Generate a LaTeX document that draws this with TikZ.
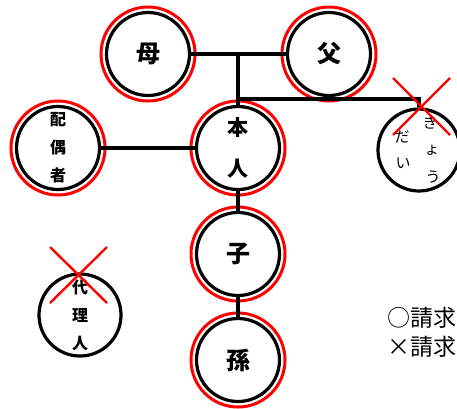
\documentclass[tikz,border=0pt]{standalone}
\usepackage{fontspec}
\newfontfamily\cjk{Noto Sans CJK JP}
\begin{document}
\begin{tikzpicture}[x=1pt,y=-1pt,
  person/.style={circle,draw=black,line width=3.2pt,minimum size=83pt,inner sep=0pt,align=center},
  big/.style={font=\cjk\bfseries\fontsize{24}{24}\selectfont},
  mid/.style={font=\cjk\bfseries\fontsize{21}{41}\selectfont},
  small/.style={font=\cjk\bfseries\fontsize{16}{28}\selectfont},
  kana/.style={font=\cjk\fontsize{15}{15}\selectfont,inner sep=0pt},
  legend/.style={font=\cjk\fontsize{23}{23}\selectfont,anchor=west,inner sep=0pt},
  ring/.style={draw=red,line width=3pt},
  link/.style={draw=black,line width=3.2pt},
  cross/.style={draw=red,line width=2.4pt}]
\useasboundingbox (0,0) rectangle (457,408);
\clip (0,0) rectangle (457,408);
\fill[white] (0,0) rectangle (457,408);
% people
\node[person,big] (haha) at (148,54) {母};
\node[person,big] (chichi) at (329,54) {父};
\node[person,mid] (honnin) at (238,148) {本\\人};
\node[person,small] (haiguusha) at (58,148) {配\\偶\\者};
\node[person,big] (ko) at (238,254) {子};
\node[person,big] (mago) at (238,360) {孫};
\node[person,minimum size=82pt] (kyoudai) at (419,150) {};
\node[person,small,minimum size=82pt] (dairinin) at (80,315) {代\\理\\人};
% red rings
\foreach \n in {haha,chichi,honnin,haiguusha,ko,mago}
  \draw[ring] (\n.center) circle (47pt);
% kana inside siblings
\node[kana] (k1) at (430,123) {き};
\node[kana] (k2) at (432,150) {ょ};
\node[kana] (k3) at (433,177) {う};
\node[kana] (k4) at (402,137) {だ};
\node[kana] (k5) at (403,163) {い};
% connectors
\draw[link] (haha) -- (chichi);
\draw[link] (haha -| honnin) -- (honnin);
\coordinate (sib) at (238,99);
\draw[link] (sib) -| (kyoudai);
\draw[link] (haiguusha) -- (honnin);
\draw[link] (honnin) -- (ko);
\draw[link] (ko) -- (mago);
% crosses
\draw[cross] (393,78) -- (450,135);
\draw[cross] (450,78) -- (393,135);
\draw[cross] (50,247) -- (107,303);
\draw[cross] (107,247) -- (50,303);
% legend
\node[legend] (lg1) at (387,318) {○請求};
\node[legend] (lg2) at (387,347) {×請求};
\end{tikzpicture}
\end{document}
